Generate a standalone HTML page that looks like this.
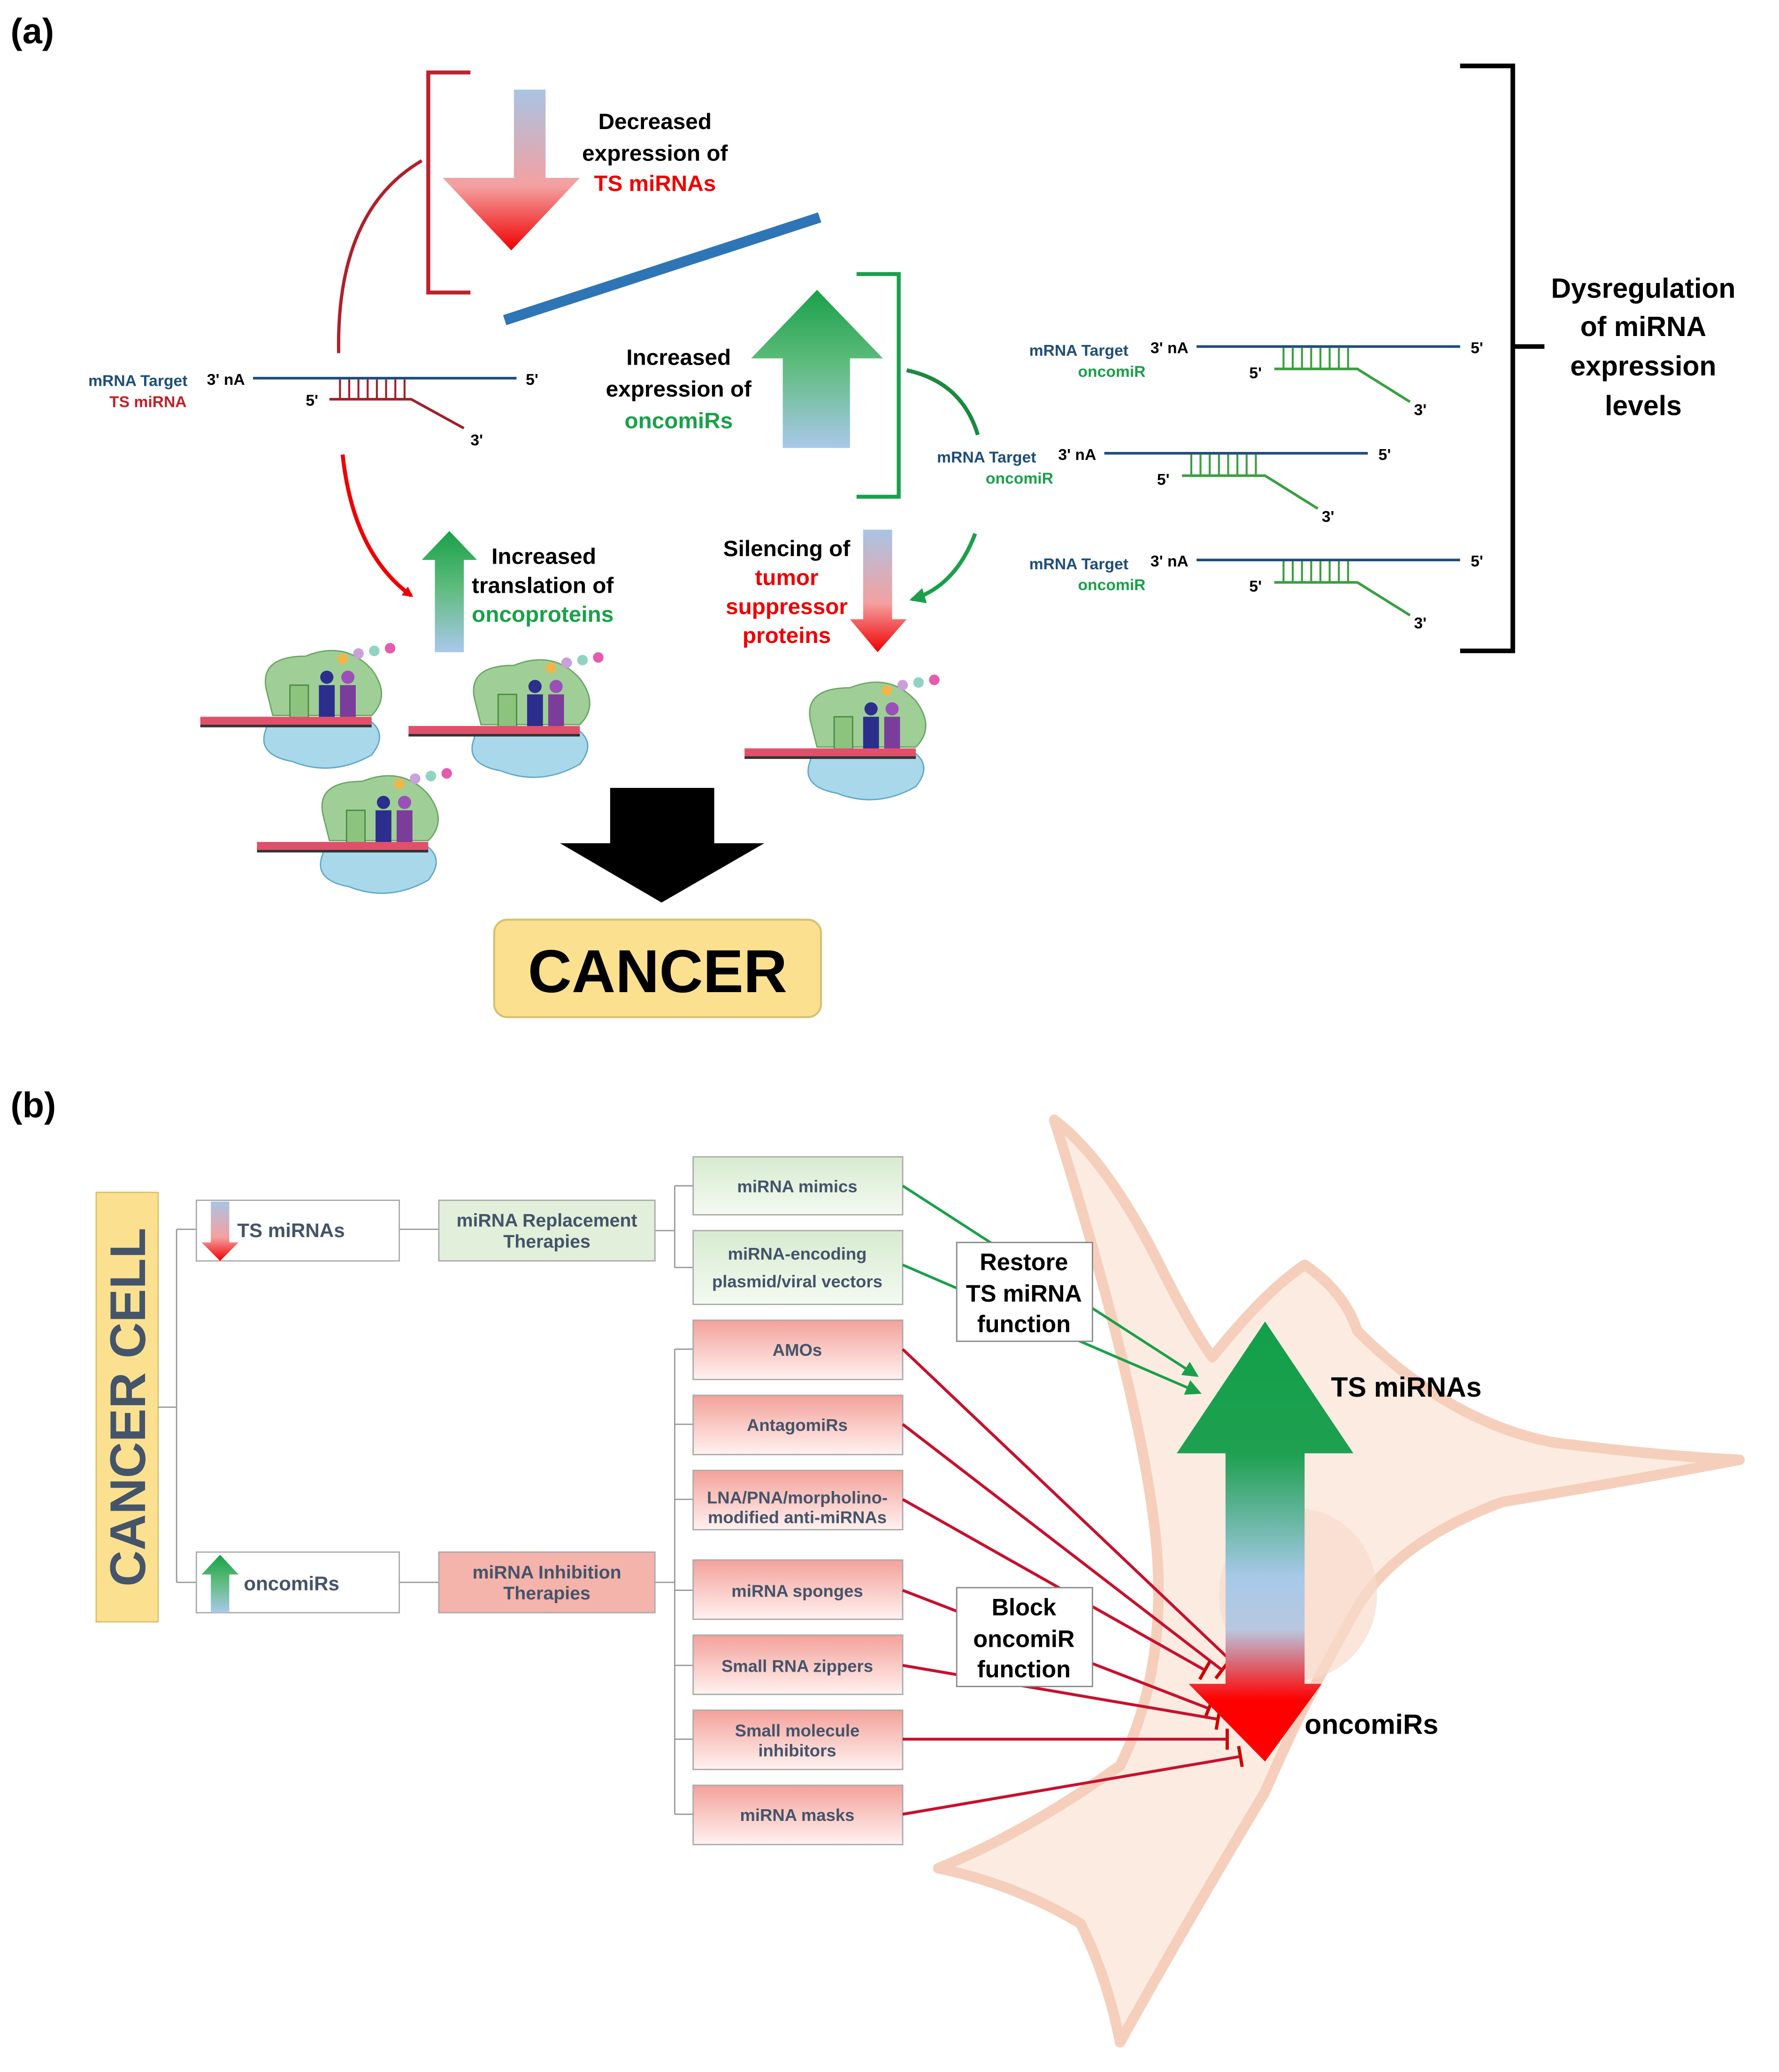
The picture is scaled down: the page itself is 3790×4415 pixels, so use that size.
<!DOCTYPE html>
<html><head><meta charset="utf-8"><style>html,body{margin:0;padding:0;background:#fff}svg{display:block}text{font-family:"Liberation Sans",Arial,sans-serif;font-weight:bold}</style></head>
<body>
<svg width="3790" height="4415" viewBox="0 0 1350 1572.6" xmlns="http://www.w3.org/2000/svg">
<defs>
<linearGradient id="bd" x1="0" y1="0" x2="0" y2="1"><stop offset="0" stop-color="#a9c4e4"/><stop offset="0.6" stop-color="#f4a0a0"/><stop offset="1" stop-color="#f00000"/></linearGradient>
<linearGradient id="gu" x1="0" y1="0" x2="0" y2="1"><stop offset="0" stop-color="#1aa04a"/><stop offset="0.45" stop-color="#5cbb7a"/><stop offset="1" stop-color="#a9c8ea"/></linearGradient>
<linearGradient id="big" x1="0" y1="0" x2="0" y2="1"><stop offset="0" stop-color="#12a04a"/><stop offset="0.3" stop-color="#1ea050"/><stop offset="0.58" stop-color="#a7c9e8"/><stop offset="0.7" stop-color="#b8c8e0"/><stop offset="0.86" stop-color="#f00"/><stop offset="1" stop-color="#f00"/></linearGradient>
<linearGradient id="rb" x1="0" y1="0" x2="0" y2="1"><stop offset="0" stop-color="#f4a19a"/><stop offset="1" stop-color="#fff2f0"/></linearGradient>
<linearGradient id="gb" x1="0" y1="0" x2="0" y2="1"><stop offset="0" stop-color="#d7ebd0"/><stop offset="1" stop-color="#f4faf1"/></linearGradient>
<marker id="ar" markerWidth="8" markerHeight="8" refX="6" refY="4" orient="auto" markerUnits="userSpaceOnUse"><path d="M0,0 L8,4 L0,8 Z" fill="#e00"/></marker>
<marker id="ag" markerWidth="12" markerHeight="12" refX="10" refY="6" orient="auto" markerUnits="userSpaceOnUse"><path d="M0,0 L12,6 L0,12 Z" fill="#1aa04a"/></marker>
<marker id="tb" markerWidth="4" markerHeight="16" refX="2" refY="8" orient="auto" markerUnits="userSpaceOnUse"><rect x="0" y="0" width="2.5" height="16" fill="#c00"/></marker>
<g id="ribo">
<path d="M-40,-25 Q-45,-50 -10,-50 Q20,-62 40,-40 Q55,-20 40,-5 L-35,-5 Z" fill="#9fcf96" stroke="#6aa564" stroke-width="1"/>
<path d="M-40,5 Q-48,25 -20,30 Q10,42 40,25 Q52,10 40,0 L-40,0Z" fill="#a8d8ea" stroke="#5fa8c6" stroke-width="1"/>
<rect x="-22" y="-28" width="14" height="28" fill="#8cc47f" stroke="#4d8a45"/>
<rect x="0" y="-28" width="12" height="28" fill="#2b2e8c"/>
<rect x="16" y="-28" width="12" height="28" fill="#7b3d9a"/>
<circle cx="6" cy="-34" r="5" fill="#2b2e8c"/><circle cx="22" cy="-34" r="5" fill="#9b4fb8"/>
<circle cx="18" cy="-48" r="4" fill="#f2b54b"/><circle cx="30" cy="-52" r="4" fill="#c9a0dc"/><circle cx="42" cy="-54" r="4" fill="#8fd3c3"/><circle cx="54" cy="-56" r="4" fill="#e45bb0"/>
<rect x="-90" y="-4" width="130" height="6" fill="#e0506a"/>
<rect x="-90" y="2" width="130" height="2" fill="#333"/>
</g>
</defs>

<!-- (a) -->
<text x="8" y="33" font-size="27">(a)</text>
<path d="M357,55 H325 V222 H357" fill="none" stroke="#c0202a" stroke-width="3"/>
<polygon points="390,68 414,68 414,135 440,135 388,190 336,135 390,135" fill="url(#bd)"/>
<text font-size="17" text-anchor="middle"><tspan x="497" y="98">Decreased</tspan><tspan x="497" y="122">expression of</tspan><tspan x="497" y="145" fill="#e00">TS miRNAs</tspan></text>
<line x1="383" y1="243" x2="622" y2="165" stroke="#2e75b6" stroke-width="8"/>
<path d="M650,208 H682 V377 H650" fill="none" stroke="#1aa04a" stroke-width="3"/>
<polygon points="620,220 670,272 645,272 645,340 594,340 594,272 570,272" fill="url(#gu)"/>
<text font-size="17" text-anchor="middle"><tspan x="515" y="277">Increased</tspan><tspan x="515" y="301">expression of</tspan><tspan x="515" y="325" fill="#1aa04a">oncomiRs</tspan></text>

<!-- left mRNA -->
<g font-size="12">
<text x="67" y="293" fill="#1f4e79">mRNA Target</text><text x="157" y="292" font-weight="normal">3' nA</text>
<text x="83" y="309" fill="#c0202a">TS miRNA</text><text x="232" y="308" font-weight="normal">5'</text>
<text x="399" y="292" font-weight="normal">5'</text><text x="357" y="338" font-weight="normal">3'</text>
</g>
<line x1="192" y1="287" x2="392" y2="287" stroke="#1f4e79" stroke-width="2"/>
<polyline points="250,303 312,303 352,325" fill="none" stroke="#a0202a" stroke-width="2"/>
<path d="M258,288v15M265,288v15M272,288v15M279,288v15M286,288v15M293,288v15M300,288v15M307,288v15" stroke="#a0202a" stroke-width="1.5"/>

<!-- right mRNAs -->
<g id="m1">
<g font-size="12"><text x="781" y="270" fill="#1f4e79">mRNA Target</text><text x="873" y="268" font-weight="normal">3' nA</text>
<text x="818" y="286" fill="#1aa04a">oncomiR</text><text x="948" y="287" font-weight="normal">5'</text>
<text x="1116" y="268" font-weight="normal">5'</text><text x="1073" y="315" font-weight="normal">3'</text></g>
<line x1="908" y1="263" x2="1108" y2="263" stroke="#1f4e79" stroke-width="2"/>
<polyline points="967,280 1030,280 1070,305" fill="none" stroke="#3aa040" stroke-width="2"/>
<path d="M974,264v16M981,264v16M988,264v16M995,264v16M1002,264v16M1009,264v16M1016,264v16M1023,264v16" stroke="#3aa040" stroke-width="1.5"/>
</g>
<use href="#m1" x="-70" y="81"/>
<use href="#m1" x="0" y="162"/>
<path d="M1108,50 H1148 V494 H1108 M1148,263 H1172" fill="none" stroke="#000" stroke-width="3.5"/>
<text font-size="21" text-anchor="middle"><tspan x="1247" y="226">Dysregulation</tspan><tspan x="1247" y="255">of miRNA</tspan><tspan x="1247" y="285">expression</tspan><tspan x="1247" y="315">levels</tspan></text>

<!-- curves -->
<path d="M257,268 Q255,160 320,122" fill="none" stroke="#b0202a" stroke-width="2.5"/>
<path d="M260,345 Q268,420 312,452" fill="none" stroke="#e00" stroke-width="3" marker-end="url(#ar)"/>
<path d="M688,281 Q730,290 742,330" fill="none" stroke="#1a8a40" stroke-width="3"/>
<path d="M740,405 Q725,445 692,455" fill="none" stroke="#1aa04a" stroke-width="3" marker-end="url(#ag)"/>

<polygon points="341,403 362,425 352,425 352,495 330,495 330,425 320,425" fill="url(#gu)"/>
<text font-size="17"><tspan x="373" y="428">Increased</tspan><tspan x="358" y="450">translation of</tspan><tspan x="358" y="472" fill="#1aa04a">oncoproteins</tspan></text>
<text font-size="17" text-anchor="middle"><tspan x="597" y="422">Silencing of</tspan><tspan x="597" y="444" fill="#e00">tumor</tspan><tspan x="597" y="466" fill="#e00">suppressor</tspan><tspan x="597" y="488" fill="#e00">proteins</tspan></text>
<polygon points="655,402 677,402 677,470 688,470 666,495 645,470 655,470" fill="url(#bd)"/>

<use href="#ribo" x="242" y="548"/>
<use href="#ribo" x="400" y="555"/>
<use href="#ribo" x="285" y="643"/>
<use href="#ribo" x="655" y="572"/>

<polygon points="463,598 542,598 542,640 580,640 502,685 425,640 463,640" fill="#000"/>
<rect x="375" y="698" width="248" height="74" rx="10" fill="#fbe08f" stroke="#d8c070" stroke-width="1.5"/>
<text x="499" y="753" font-size="46" text-anchor="middle">CANCER</text>

<!-- (b) -->
<text x="8" y="848" font-size="27">(b)</text>
<path d="M800,850 Q840,880 880,960 Q905,1010 920,1030 Q960,980 990,960 Q1020,980 1030,1010 Q1100,1080 1180,1095 Q1260,1105 1320,1108 Q1230,1125 1140,1140 Q1060,1170 1030,1220 Q990,1290 960,1360 Q900,1460 850,1550 Q840,1500 820,1460 Q770,1430 712,1418 Q780,1390 850,1340 Q890,1260 875,1150 Q860,1040 800,850 Z" fill="#fcebe0" stroke="#f5cfbb" stroke-width="8" stroke-linejoin="round"/>
<ellipse cx="985" cy="1210" rx="60" ry="65" fill="#f8dccc" opacity="0.7"/>

<rect x="73" y="905" width="47" height="326" fill="#fbe08f" stroke="#d8c070"/>
<text transform="translate(110,1068) rotate(-90)" font-size="38" text-anchor="middle" fill="#44546a">CANCER CELL</text>
<path d="M120,1068 H134 M134,933 V1201 M134,933 H149 M134,1201 H149 M303,933 H333 M303,1201 H333 M497,934 H512 M512,900 V962 M512,900 H526 M512,962 H526 M497,1201 H512 M512,1024 V1377 M512,1024H526 M512,1081H526 M512,1138H526 M512,1207H526 M512,1264H526 M512,1320H526 M512,1377H526" fill="none" stroke="#999" stroke-width="1"/>
<rect x="149" y="911" width="154" height="46" fill="#fff" stroke="#aaa"/>
<rect x="149" y="1178" width="154" height="46" fill="#fff" stroke="#aaa"/>
<polygon points="160,912 174,912 174,943 181,943 167,957 153,943 160,943" fill="url(#bd)"/>
<polygon points="167,1180 181,1195 174,1195 174,1224 160,1224 160,1195 153,1195" fill="url(#gu)"/>
<g font-size="15" fill="#44546a">
<text x="180" y="939">TS miRNAs</text><text x="185" y="1207">oncomiRs</text>
</g>
<rect x="333" y="911" width="164" height="46" fill="#e2efda" stroke="#aaa"/>
<rect x="333" y="1178" width="164" height="46" fill="#f4b3ab" stroke="#aaa"/>
<g font-size="14" fill="#44546a" text-anchor="middle">
<text x="415" y="931">miRNA Replacement</text><text x="415" y="947">Therapies</text>
<text x="415" y="1198">miRNA Inhibition</text><text x="415" y="1214">Therapies</text>
</g>
<g stroke="#aaa">
<rect x="526" y="878" width="159" height="44" fill="url(#gb)"/>
<rect x="526" y="934" width="159" height="56" fill="url(#gb)"/>
<rect x="526" y="1002" width="159" height="45" fill="url(#rb)"/>
<rect x="526" y="1059" width="159" height="45" fill="url(#rb)"/>
<rect x="526" y="1116" width="159" height="45" fill="url(#rb)"/>
<rect x="526" y="1184" width="159" height="45" fill="url(#rb)"/>
<rect x="526" y="1241" width="159" height="45" fill="url(#rb)"/>
<rect x="526" y="1298" width="159" height="45" fill="url(#rb)"/>
<rect x="526" y="1355" width="159" height="45" fill="url(#rb)"/>
</g>
<g font-size="13" fill="#44546a" text-anchor="middle">
<text x="605" y="905">miRNA mimics</text>
<text x="605" y="956">miRNA-encoding</text><text x="605" y="977">plasmid/viral vectors</text>
<text x="605" y="1029">AMOs</text>
<text x="605" y="1086">AntagomiRs</text>
<text x="605" y="1141">LNA/PNA/morpholino-</text><text x="605" y="1156">modified anti-miRNAs</text>
<text x="605" y="1212">miRNA sponges</text>
<text x="605" y="1269">Small RNA zippers</text>
<text x="605" y="1318">Small molecule</text><text x="605" y="1333">inhibitors</text>
<text x="605" y="1382">miRNA masks</text>
</g>

<!-- connectors -->
<g stroke="#1aa04a" stroke-width="2" fill="none">
<line x1="685" y1="900" x2="908" y2="1044" marker-end="url(#ag)"/>
<line x1="685" y1="960" x2="910" y2="1057" marker-end="url(#ag)"/>
</g>
<g stroke="#c8102e" stroke-width="2.2" fill="none">
<line x1="685" y1="1024" x2="942" y2="1268" marker-end="url(#tb)"/>
<line x1="685" y1="1081" x2="928" y2="1268" marker-end="url(#tb)"/>
<line x1="685" y1="1138" x2="915" y2="1268" marker-end="url(#tb)"/>
<line x1="685" y1="1207" x2="918" y2="1297" marker-end="url(#tb)"/>
<line x1="685" y1="1264" x2="925" y2="1305" marker-end="url(#tb)"/>
<line x1="685" y1="1320" x2="932" y2="1320" marker-end="url(#tb)"/>
<line x1="685" y1="1377" x2="942" y2="1333" marker-end="url(#tb)"/>
</g>
<rect x="726" y="943" width="103" height="75" fill="#fff" stroke="#888"/>
<rect x="726" y="1205" width="103" height="75" fill="#fff" stroke="#888"/>
<g font-size="18" text-anchor="middle">
<text x="777" y="964">Restore</text><text x="777" y="988">TS miRNA</text><text x="777" y="1011">function</text>
<text x="777" y="1226">Block</text><text x="777" y="1250">oncomiR</text><text x="777" y="1273">function</text>
</g>
<polygon points="960,1003 1027,1103 990,1103 990,1278 1003,1278 960,1337 902,1278 930,1278 930,1103 893,1103" fill="url(#big)"/>
<text x="1010" y="1060" font-size="21">TS miRNAs</text>
<text x="990" y="1316" font-size="21">oncomiRs</text>
</svg>
</body></html>
